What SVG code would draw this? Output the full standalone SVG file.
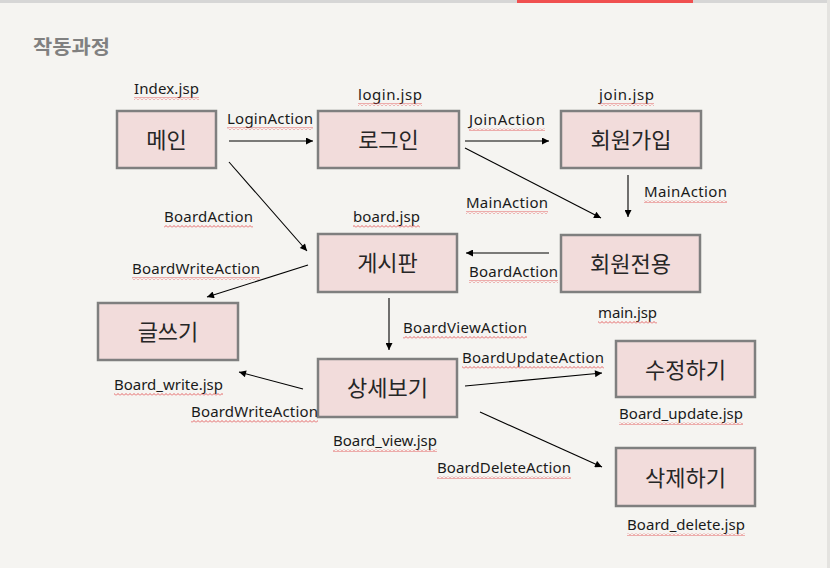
<svg xmlns="http://www.w3.org/2000/svg" width="830" height="568" viewBox="0 0 830 568">
<style>
.bg{fill:#f5f4f1}
.node rect{fill:#f2dcdb;stroke:#7f7f7f;stroke-width:2.5}
.node text{font-family:"Malgun Gothic","Noto Sans CJK KR",sans-serif;font-size:22px;fill:#262626;text-anchor:middle}
.lbl{font-family:"Noto Sans","Open Sans","Noto Sans CJK KR",sans-serif;font-size:15px;fill:#1a1a1a}
.conn line{stroke:#000;stroke-width:1.1;marker-end:url(#ah)}
.sq{fill:url(#wavy)}
</style>
<defs>
<marker id="ah" viewBox="0 0 10 10" refX="10" refY="5" markerWidth="9" markerHeight="7" markerUnits="userSpaceOnUse" orient="auto">
<path d="M0,0 L10,5 L0,10 z" fill="#000"/>
</marker>
<pattern id="wavy" width="4" height="3" patternUnits="userSpaceOnUse">
<path d="M0,2.5 L2,0.5 L4,2.5" fill="none" stroke="#e04040" stroke-width="0.8"/>
</pattern>
</defs>
<rect class="bg" x="0" y="0" width="830" height="568"/>
<rect x="0" y="0" width="830" height="3" fill="#d6d6d6"/>
<rect x="517" y="0" width="176" height="3" fill="#f05050"/>
<rect x="827" y="0" width="3" height="568" fill="#e4e3e0"/>
<text x="33" y="54" font-family="Malgun Gothic,'Noto Sans CJK KR',sans-serif" font-size="19.5" font-weight="bold" fill="#808080" textLength="77" lengthAdjust="spacingAndGlyphs">작동과정</text>

<g id="n-main" class="node"><rect x="117" y="111" width="99" height="57"/><text x="166.5" y="148">메인</text></g>
<g id="n-login" class="node"><rect x="318" y="111" width="141" height="57"/><text x="388.5" y="148">로그인</text></g>
<g id="n-join" class="node"><rect x="561" y="111" width="140" height="57"/><text x="631" y="148">회원가입</text></g>
<g id="n-board" class="node"><rect x="318" y="234" width="139" height="58"/><text x="387.5" y="271">게시판</text></g>
<g id="n-member" class="node"><rect x="561" y="235" width="139" height="57"/><text x="630.5" y="272">회원전용</text></g>
<g id="n-write" class="node"><rect x="98" y="303" width="140" height="57"/><text x="168" y="340">글쓰기</text></g>
<g id="n-view" class="node"><rect x="318" y="359" width="139" height="58"/><text x="387.5" y="396">상세보기</text></g>
<g id="n-update" class="node"><rect x="616" y="341" width="139" height="56"/><text x="685.5" y="378">수정하기</text></g>
<g id="n-delete" class="node"><rect x="616" y="448" width="139" height="58"/><text x="685.5" y="486">삭제하기</text></g>

<g id="connectors" class="conn">
<line x1="229" y1="141" x2="313" y2="141"/>
<line x1="465" y1="141" x2="549" y2="141"/>
<line x1="465" y1="148" x2="601" y2="218"/>
<line x1="628" y1="175" x2="628" y2="217"/>
<line x1="229" y1="162" x2="307" y2="251"/>
<line x1="549" y1="253" x2="466" y2="253"/>
<line x1="308" y1="265" x2="207" y2="297"/>
<line x1="389" y1="298" x2="389" y2="350"/>
<line x1="465" y1="386" x2="602" y2="373"/>
<line x1="480" y1="412" x2="602" y2="467"/>
<line x1="303" y1="389" x2="239" y2="372"/>
</g>

<g id="labels" class="lbl" lengthAdjust="spacingAndGlyphs">
<text x="134" y="94" textLength="65">Index.jsp</text>
<text x="358" y="100" textLength="64">login.jsp</text>
<text x="227" y="124" textLength="86">LoginAction</text>
<text x="469" y="125" textLength="76">JoinAction</text>
<text x="599" y="100" textLength="55">join.jsp</text>
<text x="466" y="208" textLength="82">MainAction</text>
<text x="644" y="197" textLength="83">MainAction</text>
<text x="164" y="222" textLength="89">BoardAction</text>
<text x="353" y="222" textLength="67">board.jsp</text>
<text x="132" y="274" textLength="128">BoardWriteAction</text>
<text x="469" y="277" textLength="89">BoardAction</text>
<text x="598" y="318" textLength="59">main.jsp</text>
<text x="403" y="333" textLength="124">BoardViewAction</text>
<text x="462" y="363" textLength="142">BoardUpdateAction</text>
<text x="619" y="419" textLength="124">Board_update.jsp</text>
<text x="114" y="390" textLength="109">Board_write.jsp</text>
<text x="191" y="417" textLength="127">BoardWriteAction</text>
<text x="333" y="446" textLength="104">Board_view.jsp</text>
<text x="437" y="473" textLength="134">BoardDeleteAction</text>
<text x="627" y="530" textLength="118">Board_delete.jsp</text>
</g>

<g id="squiggles">
<rect class="sq" x="134" y="97" width="65" height="3"/>
<rect class="sq" x="358" y="103" width="64" height="3"/>
<rect class="sq" x="227" y="127" width="86" height="3"/>
<rect class="sq" x="469" y="128" width="76" height="3"/>
<rect class="sq" x="599" y="103" width="55" height="3"/>
<rect class="sq" x="466" y="211" width="82" height="3"/>
<rect class="sq" x="644" y="200" width="83" height="3"/>
<rect class="sq" x="164" y="225" width="89" height="3"/>
<rect class="sq" x="353" y="225" width="67" height="3"/>
<rect class="sq" x="132" y="277" width="128" height="3"/>
<rect class="sq" x="469" y="280" width="89" height="3"/>
<rect class="sq" x="598" y="321" width="59" height="3"/>
<rect class="sq" x="403" y="336" width="124" height="3"/>
<rect class="sq" x="462" y="366" width="142" height="3"/>
<rect class="sq" x="619" y="422" width="124" height="3"/>
<rect class="sq" x="114" y="393" width="109" height="3"/>
<rect class="sq" x="191" y="420" width="127" height="3"/>
<rect class="sq" x="333" y="449" width="104" height="3"/>
<rect class="sq" x="437" y="476" width="134" height="3"/>
<rect class="sq" x="627" y="533" width="118" height="3"/>
</g>
</svg>
